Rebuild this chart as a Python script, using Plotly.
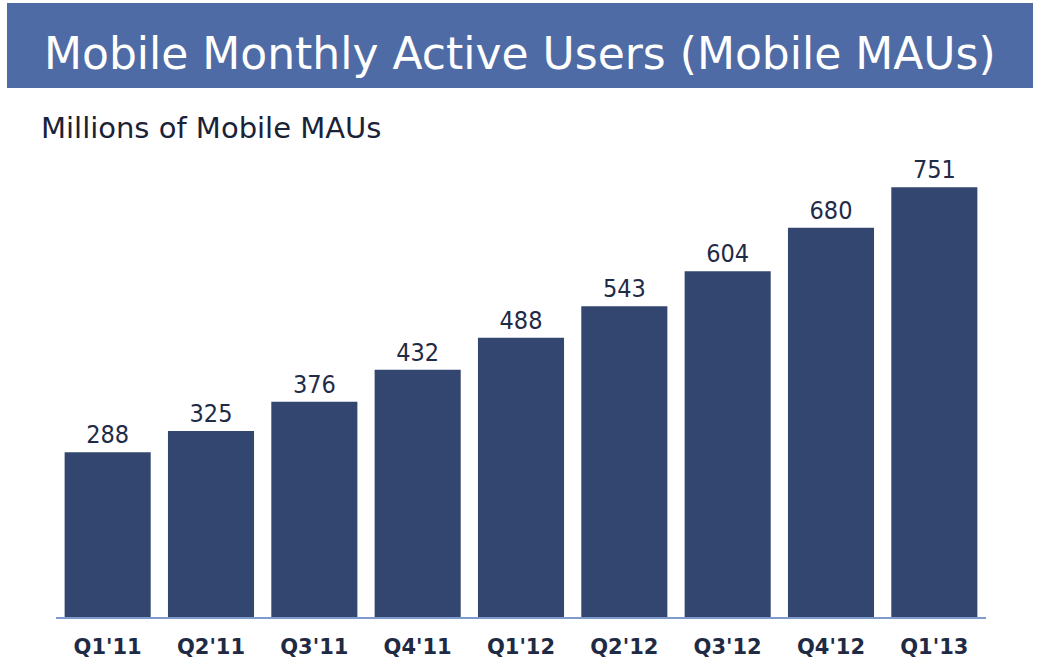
import plotly.graph_objects as go

quarters = ["Q1'11", "Q2'11", "Q3'11", "Q4'11", "Q1'12", "Q2'12", "Q3'12", "Q4'12", "Q1'13"]
mobile_maus = [288, 325, 376, 432, 488, 543, 604, 680, 751]

title_text = "Mobile Monthly Active Users (Mobile MAUs)"
subtitle_text = "Millions of Mobile MAUs"

W, H = 1041, 659
L, R, T, B = 56, 55, 150, 42
plot_w = W - L - R
plot_h = H - T - B


def px_x(x):
    return (x - L) / plot_w


def px_y(y):
    return (H - B - y) / plot_h


label_font = "DejaVu Sans Condensed, DejaVu Sans"

bars = go.Bar(
    x=quarters,
    y=mobile_maus,
    text=mobile_maus,
    textposition="outside",
    cliponaxis=False,
    textfont=dict(family=label_font, size=25, color="#1F2B47"),
    marker=dict(color="#32466F", line=dict(width=0)),
    hoverinfo="skip",
)

fig = go.Figure(data=[bars])

fig.update_layout(
    width=W,
    height=H,
    margin=dict(l=L, r=R, t=T, b=B),
    paper_bgcolor="white",
    plot_bgcolor="white",
    showlegend=False,
    bargap=0.167,
    font=dict(family="DejaVu Sans"),
)

fig.update_xaxes(
    automargin=False,
    showgrid=False,
    showline=True,
    linecolor="#7F9ACD",
    linewidth=1.5,
    ticks="",
    tickfont=dict(family="DejaVu Sans", size=21, color="#1F2A44", weight="bold"),
    ticklabelstandoff=10,
)
fig.update_yaxes(
    automargin=False,
    range=[0, 816],
    showgrid=False,
    showticklabels=False,
    zeroline=False,
    showline=False,
    ticks="",
)

# header banner
fig.add_shape(
    type="rect",
    xref="paper", yref="paper",
    x0=px_x(7), x1=px_x(1033),
    y0=px_y(88), y1=px_y(3),
    fillcolor="#4F6BA5",
    line=dict(width=0),
    layer="below",
)

fig.add_annotation(
    text=title_text,
    xref="paper", yref="paper",
    x=px_x(520), y=px_y(53),
    xanchor="center", yanchor="middle",
    showarrow=False,
    font=dict(family="DejaVu Sans", size=44, color="white"),
)

fig.add_annotation(
    text=subtitle_text,
    xref="paper", yref="paper",
    x=px_x(39), y=px_y(128),
    xanchor="left", yanchor="middle",
    showarrow=False,
    font=dict(family="DejaVu Sans", size=29, color="#1A2238"),
)

# drop the browser's default body margin so the figure sits at the page origin
fig.write_html(
    "out.html",
    config={"displayModeBar": False},
    post_script="document.body.style.margin='0';",
)
